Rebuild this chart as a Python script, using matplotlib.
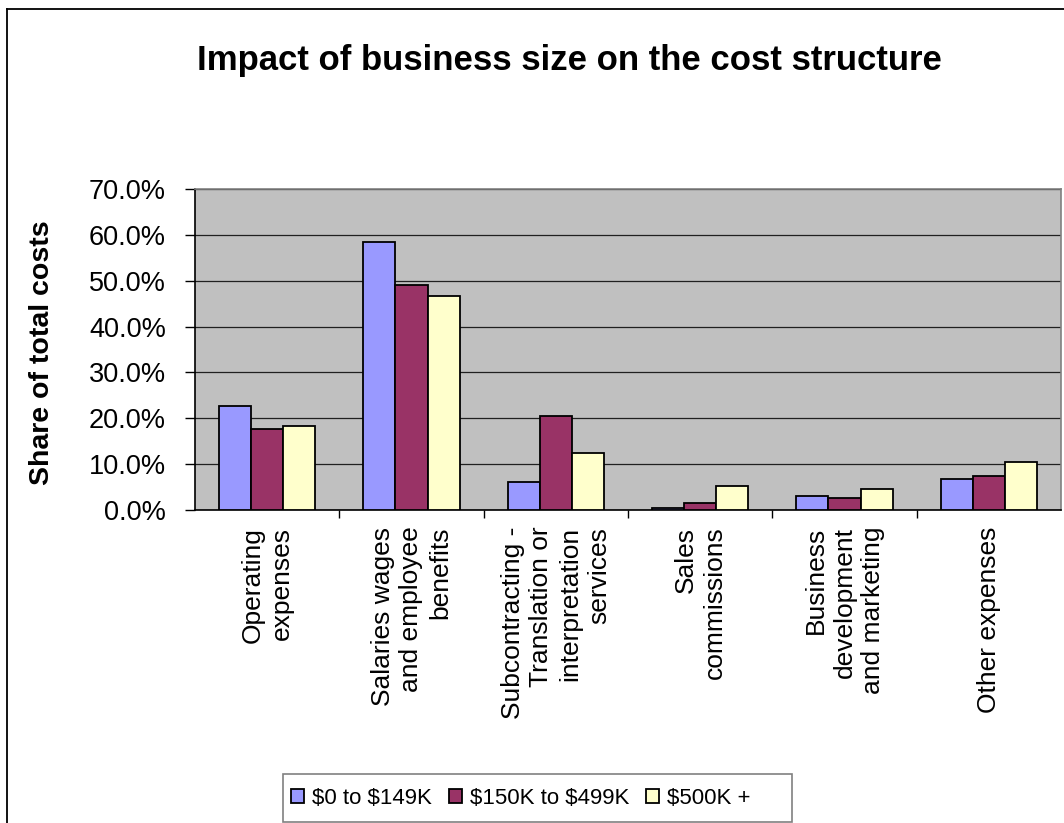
import numpy as np
import matplotlib
matplotlib.use('Agg')
from matplotlib import pyplot as plt
from matplotlib import font_manager
from matplotlib.lines import Line2D
from matplotlib.patches import Rectangle
from matplotlib.ticker import PercentFormatter, FixedLocator

plt.rcParams['font.family'] = ['Liberation Sans', 'DejaVu Sans']

categories = [
    'Operating\nexpenses',
    'Salaries wages\nand employee\nbenefits',
    'Subcontracting -\nTranslation or\ninterpretation\nservices',
    'Sales\ncommissions',
    'Business\ndevelopment\nand marketing',
    'Other expenses',
]
series_names = [r'\$0 to \$149K', r'\$150K to \$499K', r'\$500K +']
small_biz = [22.7, 58.4, 6.0, 0.4, 3.1, 6.8]
mid_biz = [17.7, 49.1, 20.6, 1.6, 2.7, 7.5]
large_biz = [18.4, 46.6, 12.5, 5.2, 4.5, 10.4]
colors = ['#9999FF', '#993366', '#FFFFCC']

W, H = 1064, 823
fig = plt.figure(figsize=(W / 100, H / 100), dpi=100)

# plot area in pixel coordinates (left, top, right, bottom)
x0, y0, x1, y1 = 195, 189, 1061, 510
ax = fig.add_axes([x0 / W, 1 - y1 / H, (x1 - x0) / W, (y1 - y0) / H])
ax.set_facecolor('#C0C0C0')

x = np.arange(len(categories))
width = 1 / 4.5
for i, (vals, name, col) in enumerate(zip([small_biz, mid_biz, large_biz], series_names, colors)):
    ax.bar(x + (i - 1) * width, vals, width, color=col, edgecolor='black',
           linewidth=1.3, label=name, zorder=3)

ax.set_xlim(-0.5, len(categories) - 0.5)
ax.set_ylim(0, 70)
ax.set_yticks(np.arange(0, 71, 10))
ax.yaxis.set_major_formatter(PercentFormatter(xmax=100, decimals=1))
ax.yaxis.grid(True, color='#202020', linewidth=0.9, zorder=1)
ax.set_axisbelow(True)

ax.set_xticks(x)
ax.set_xticklabels(categories, rotation=90, multialignment='right', fontsize=19,
                   linespacing=1.25)
ax.xaxis.set_minor_locator(FixedLocator(np.arange(0.5, len(categories) - 1, 1)))
ax.tick_params(axis='x', which='major', length=0, pad=12)
ax.tick_params(axis='x', which='minor', length=6, width=1, direction='out')
ax.tick_params(axis='y', length=7, width=1, direction='out', pad=14, labelsize=19.5)

for side in ['left', 'bottom']:
    ax.spines[side].set_color('black')
    ax.spines[side].set_linewidth(1.2)
for side in ['top', 'right']:
    ax.spines[side].set_color('#808080')
    ax.spines[side].set_linewidth(1.2)

fig.text(569 / W, 1 - 70 / H, 'Impact of business size on the cost structure',
         ha='center', va='baseline', fontsize=25, fontweight='bold')
fig.text(42 / W, 1 - 353 / H, 'Share of total costs', rotation=90,
         ha='center', va='center', fontsize=20.5, fontweight='bold')

# chart frame, partly cut off at the right and bottom
fig.add_artist(Line2D([7 / W, 7 / W], [0, 1 - 9 / H], color='black', linewidth=1.3))
fig.add_artist(Line2D([7 / W, 1], [1 - 9 / H, 1 - 9 / H], color='black', linewidth=1.3))

# legend box
fig.add_artist(Rectangle((283 / W, 1 - 822 / H), (792 - 283) / W, (822 - 774) / H,
                         transform=fig.transFigure, facecolor='white',
                         edgecolor='#808080', linewidth=1.2))

# legend text is narrow; use a condensed face when one is installed
installed = {f.name for f in font_manager.fontManager.ttflist}
if 'Liberation Sans Narrow' in installed:
    leg_font = {'family': 'Liberation Sans Narrow', 'size': 19.5}
else:
    leg_font = {'family': 'Liberation Sans', 'size': 16}

handles, labels = ax.get_legend_handles_labels()
fig.legend(handles, labels, loc='center left', bbox_to_anchor=(291 / W, 1 - 798 / H),
           ncol=3, frameon=False, prop=leg_font, handlelength=0.6, handleheight=0.6,
           handletextpad=0.35, columnspacing=0.75, borderpad=0, borderaxespad=0)

plt.savefig('out.png', dpi=100, facecolor='white')
